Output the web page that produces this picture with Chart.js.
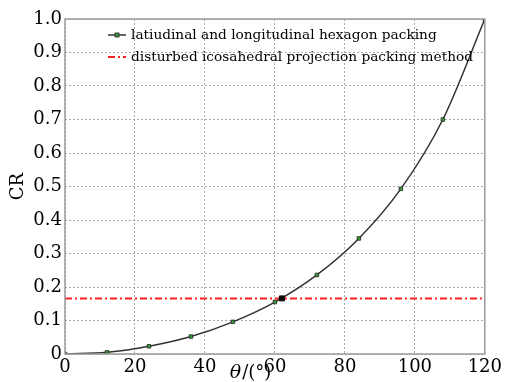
<!DOCTYPE html>
<html><head><meta charset="utf-8">
<script src="https://cdn.jsdelivr.net/npm/chart.js@4/dist/chart.umd.min.js"></script>
<style>html,body{margin:0;padding:0;background:#fff}#wrap{width:505px;height:382px}</style>
</head><body><div id="wrap"><canvas id="c" width="505" height="382"></canvas></div>
<script>
const thetaValues = [0, 12, 24, 36, 48, 60, 72, 84, 96, 108, 120];
const crValues = [0, 0.005, 0.023, 0.052, 0.096, 0.155, 0.236, 0.345, 0.493, 0.70, 1.0];
const icoCR = 0.166;
const intersectionTheta = 62;
const seriesNames = ['latiudinal and longitudinal hexagon packing', 'disturbed icosahedral projection packing method'];
const xTicks = [0, 20, 40, 60, 80, 100, 120];
const yTicks = [0, 0.1, 0.2, 0.3, 0.4, 0.5, 0.6, 0.7, 0.8, 0.9, 1.0];
const xTitle = 'θ/(°)';
const yTitle = 'CR';

const FONT = "'DejaVu Serif', serif";

const framePlugin = {
  id: 'frame',
  afterDraw(chart) {
    const {ctx, chartArea: a} = chart;
    ctx.save();
    ctx.strokeStyle = '#9a9a9a';
    ctx.lineWidth = 1.5;
    ctx.strokeRect(a.left, a.top, a.right - a.left, a.bottom - a.top);
    // legend
    const lx = a.left + 43, ly1 = a.top + 16, ly2 = a.top + 38;
    ctx.strokeStyle = '#333';
    ctx.lineWidth = 1.5;
    ctx.setLineDash([]);
    ctx.beginPath(); ctx.moveTo(lx, ly1); ctx.lineTo(lx + 18, ly1); ctx.stroke();
    ctx.fillStyle = '#3a9a3a';
    ctx.fillRect(lx + 7, ly1 - 2, 4, 4);
    ctx.strokeStyle = '#222'; ctx.lineWidth = 0.8;
    ctx.strokeRect(lx + 7, ly1 - 2, 4, 4);
    ctx.strokeStyle = '#ff2020'; ctx.lineWidth = 2;
    ctx.setLineDash([7, 3, 2, 3]);
    ctx.beginPath(); ctx.moveTo(lx, ly2); ctx.lineTo(lx + 18, ly2); ctx.stroke();
    ctx.setLineDash([]);
    ctx.fillStyle = '#000';
    ctx.font = "13.7px " + FONT;
    ctx.textBaseline = 'middle';
    ctx.textAlign = 'left';
    ctx.fillText(seriesNames[0], lx + 23, ly1);
    ctx.fillText(seriesNames[1], lx + 23, ly2);
    // x title
    ctx.font = "italic 19px " + FONT;
    const tw = ctx.measureText('θ').width;
    ctx.font = "18px " + FONT;
    const rest = xTitle.slice(1);
    const rw = ctx.measureText(rest).width;
    const cx = 250, cy = 373;
    const start = cx - (tw + rw) / 2;
    ctx.font = "italic 19px " + FONT;
    ctx.fillText(xTitle[0], start, cy);
    ctx.font = "18px " + FONT;
    ctx.fillText(rest, start + tw + 1, cy);
    ctx.restore();
  }
};

new Chart(document.getElementById('c'), {
  type: 'scatter',
  data: {
    datasets: [
      {
        label: seriesNames[0],
        data: thetaValues.map((t, i) => ({x: t, y: crValues[i]})),
        showLine: true,
        borderColor: '#333',
        borderWidth: 1.5,
        cubicInterpolationMode: 'monotone',
        pointStyle: 'rect',
        pointRadius: 2.5,
        pointBackgroundColor: '#3a9a3a',
        pointBorderColor: '#222',
        pointBorderWidth: 0.8,
        order: 2
      },
      {
        label: seriesNames[1],
        data: [{x: xTicks[0], y: icoCR}, {x: xTicks[xTicks.length - 1], y: icoCR}],
        showLine: true,
        borderColor: '#ff2020',
        borderWidth: 2,
        borderDash: [7, 3, 2, 3],
        pointRadius: 0,
        order: 3
      },
      {
        label: 'intersection',
        data: [{x: intersectionTheta, y: icoCR}],
        pointStyle: 'rect',
        pointRadius: 3.5,
        pointBackgroundColor: '#000',
        pointBorderColor: '#000',
        order: 1
      }
    ]
  },
  options: {
    responsive: false,
    animation: false,
    layout: {padding: {top: 19, right: 10, left: 0, bottom: 0}},
    plugins: {legend: {display: false}, tooltip: {enabled: false}},
    scales: {
      x: {
        type: 'linear', min: 0, max: 120,
        afterBuildTicks: s => { s.ticks = xTicks.map(v => ({value: v})); },
        afterFit: s => { s.height = 28; },
        grid: {color: '#aaa', lineWidth: 1, tickLength: 0, drawTicks: false},
        border: {display: false, dash: [2, 2]},
        ticks: {color: '#000', font: {family: FONT, size: 18}, padding: 3, maxRotation: 0}
      },
      y: {
        min: 0, max: 1,
        afterBuildTicks: s => { s.ticks = yTicks.map(v => ({value: v})); },
        afterFit: s => { s.width = 65; },
        grid: {color: '#aaa', lineWidth: 1, drawTicks: false},
        border: {display: false, dash: [2, 2]},
        title: {display: true, text: yTitle, color: '#000', font: {family: FONT, size: 18}, padding: {top: 8, bottom: 0}},
        ticks: {color: '#000', font: {family: FONT, size: 18}, padding: 3,
          callback: v => v === 0 ? '0' : v.toFixed(1)}
      }
    }
  },
  plugins: [framePlugin]
});
</script>
</body></html>
